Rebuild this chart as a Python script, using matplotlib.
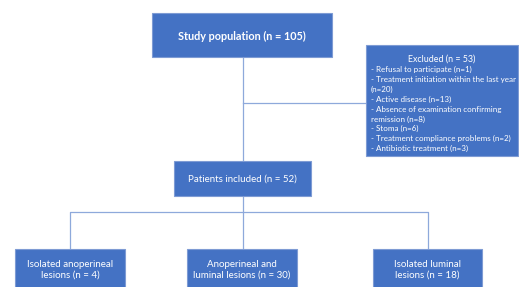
import matplotlib.pyplot as plt
from matplotlib.patches import Rectangle

plt.rcParams['font.family'] = ['Lato', 'DejaVu Sans']

top_label = 'Study population (n = 105)'
excl_title = 'Excluded (n = 53)'
excl_lines = ['- Refusal to participate (n=1)',
              '- Treatment initiation within the last year',
              '(n=20)',
              '- Active disease (n=13)',
              '- Absence of examination confirming',
              'remission (n=8)',
              '- Stoma (n=6)',
              '- Treatment compliance problems (n=2)',
              '- Antibiotic treatment (n=3)']
mid_label = 'Patients included (n = 52)'
bottom_labels = ['Isolated anoperineal\nlesions (n = 4)',
                 'Anoperineal and\nluminal lesions (n = 30)',
                 'Isolated luminal\nlesions (n = 18)']

box_c = '#4472C4'
edge_c = '#7E9BD4'
line_c = '#8EA9DB'

fig = plt.figure(figsize=(5.19, 2.87), dpi=100)
ax = fig.add_axes([0, 0, 1, 1])
ax.set_xlim(0, 519)
ax.set_ylim(287, 0)
ax.axis('off')


def box(x0, y0, x1, y1):
    ax.add_patch(Rectangle((x0, y0), x1 - x0, y1 - y0, facecolor=box_c,
                           edgecolor=edge_c, lw=0.8, zorder=2))


def line(xs, ys):
    ax.plot(xs, ys, color=line_c, lw=0.9, zorder=1)


# connectors
line([243, 243], [57, 249])
line([243, 366], [103, 103])
line([70, 70, 428, 428], [249, 212, 212, 249])

# top box
box(152, 13, 332, 57)
ax.text(242, 36, top_label, color='white', fontsize=7.8, fontweight='bold',
        ha='center', va='center')

# excluded box
box(366, 45, 518, 156)
ax.text(442, 59, excl_title, color='white', fontsize=6.4, ha='center', va='center')
for i, s in enumerate(excl_lines):
    ax.text(371, 69.5 + i * 9.9, s, color='white', fontsize=5.8, ha='left', va='center')

# included box
box(174, 161, 311, 196)
ax.text(242.5, 179, mid_label, color='white', fontsize=7, ha='center', va='center')

# bottom boxes
for (x0, x1), s in zip([(15, 125), (187, 297), (373, 482)], bottom_labels):
    box(x0, 249, x1, 295)
    ax.text((x0 + x1) / 2, 270, s, color='white', fontsize=7, ha='center',
            va='center', linespacing=1.3)

fig.savefig('out.png', dpi=100)
